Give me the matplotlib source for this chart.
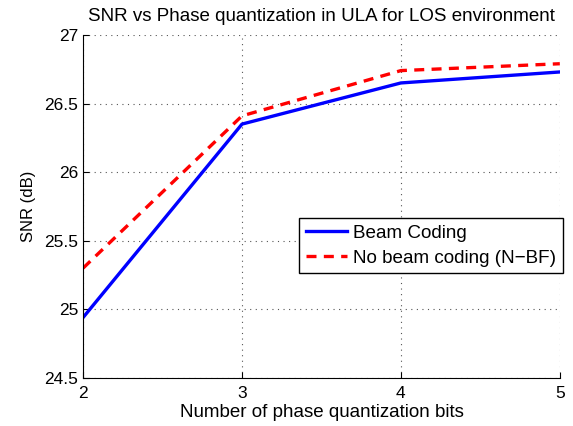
import matplotlib
matplotlib.use('Agg')
import matplotlib.pyplot as plt

plt.rcParams['font.family'] = ['Liberation Sans', 'DejaVu Sans']

bits = [2, 3, 4, 5]
snr_beam = [24.94, 26.35, 26.65, 26.73]
snr_nbf = [25.30, 26.41, 26.74, 26.79]

fig = plt.figure(figsize=(5.73, 4.26), dpi=100)
ax = fig.add_axes([0.145, 0.113, 0.832, 0.805])

ax.plot(bits, snr_beam, color='#0000ff', lw=2.4, label='Beam Coding')
ax.plot(bits, snr_nbf, color='#ff0000', lw=2.4, ls=(0, (3, 2.2)), label='No beam coding (N\u2212BF)')

ax.set_xlim(2, 5)
ax.set_ylim(24.5, 27)
ax.set_xticks(bits)
ax.set_yticks([24.5, 25, 25.5, 26, 26.5, 27])
ax.set_yticklabels(['24.5', '25', '25.5', '26', '26.5', '27'])
ax.tick_params(direction='in', labelsize=12.5, length=4, top=False, right=False)
ax.tick_params(axis='x', pad=6)
ax.grid(True, ls=(0, (1, 4)), color='#555555', lw=0.8)
ax.spines['top'].set_visible(False)
ax.spines['right'].set_visible(False)

ax.set_xlabel('Number of phase quantization bits', fontsize=13.5, labelpad=2)
ax.set_ylabel('SNR (dB)', fontsize=12, labelpad=6)
ax.set_title('SNR vs Phase quantization in ULA for LOS environment', fontsize=13.5, pad=10)

leg = ax.legend(loc='upper right', bbox_to_anchor=(1.006, 0.466), borderaxespad=0,
                fontsize=13.6, fancybox=False, edgecolor='black', framealpha=1,
                handlelength=2.2, borderpad=0.35, labelspacing=0.4, handletextpad=0.3)
leg.get_frame().set_linewidth(1.0)

fig.savefig('out.png', dpi=100)
